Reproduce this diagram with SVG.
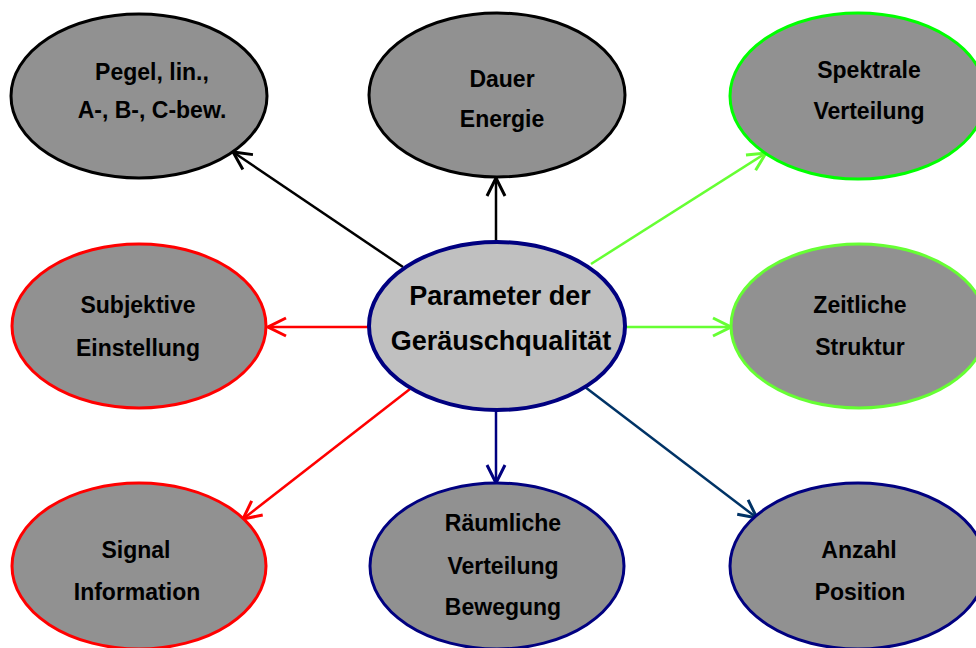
<svg xmlns="http://www.w3.org/2000/svg" width="976" height="648" viewBox="0 0 976 648">
<defs>
<style>
.n{fill:#919191;stroke-width:3}
.t{font-family:"Liberation Sans",Arial,sans-serif;font-weight:bold;font-size:23px;fill:#000;text-anchor:middle}
.c{fill:none;stroke-width:2.5}
</style>
<marker id="ak" markerUnits="userSpaceOnUse" markerWidth="22" markerHeight="22" viewBox="0 0 22 22" refX="20" refY="11" orient="auto"><path d="M2,2 L20,11 L2,20" fill="none" stroke="#000" stroke-width="3"/></marker>
<marker id="ag" markerUnits="userSpaceOnUse" markerWidth="22" markerHeight="22" viewBox="0 0 22 22" refX="20" refY="11" orient="auto"><path d="M2,2 L20,11 L2,20" fill="none" stroke="#66ff33" stroke-width="3"/></marker>
<marker id="ar" markerUnits="userSpaceOnUse" markerWidth="22" markerHeight="22" viewBox="0 0 22 22" refX="20" refY="11" orient="auto"><path d="M2,2 L20,11 L2,20" fill="none" stroke="#ff0000" stroke-width="3"/></marker>
<marker id="an" markerUnits="userSpaceOnUse" markerWidth="22" markerHeight="22" viewBox="0 0 22 22" refX="20" refY="11" orient="auto"><path d="M2,2 L20,11 L2,20" fill="none" stroke="#000080" stroke-width="3"/></marker>
<marker id="ad" markerUnits="userSpaceOnUse" markerWidth="22" markerHeight="22" viewBox="0 0 22 22" refX="20" refY="11" orient="auto"><path d="M2,2 L20,11 L2,20" fill="none" stroke="#003366" stroke-width="3"/></marker>
</defs>
<rect width="976" height="648" fill="#fff"/>
<g id="connectors">
<line class="c" x1="403" y1="267" x2="233" y2="152" stroke="#000" marker-end="url(#ak)"/>
<line class="c" x1="496" y1="241" x2="496" y2="178" stroke="#000" stroke-width="4" marker-end="url(#ak)"/>
<line class="c" x1="591" y1="264" x2="766" y2="153" stroke="#66ff33" marker-end="url(#ag)"/>
<line class="c" x1="625" y1="327" x2="731" y2="327" stroke="#66ff33" stroke-width="3" marker-end="url(#ag)"/>
<line class="c" x1="368" y1="327" x2="268" y2="327" stroke="#ff0000" stroke-width="3" marker-end="url(#ar)"/>
<line class="c" x1="410" y1="389" x2="243" y2="519" stroke="#ff0000" marker-end="url(#ar)"/>
<line class="c" x1="496" y1="410" x2="496" y2="483" stroke="#000080" stroke-width="3" marker-end="url(#an)"/>
<line class="c" x1="585" y1="387" x2="757" y2="518" stroke="#003366" marker-end="url(#ad)"/>
</g>
<g id="n-pegel">
<ellipse class="n" cx="139" cy="96" rx="128" ry="82" stroke="#000"/>
<text class="t" x="152" y="80">Pegel, lin.,</text>
<text class="t" x="152" y="118">A-, B-, C-bew.</text>
</g>
<g id="n-dauer">
<ellipse class="n" cx="497" cy="95" rx="128" ry="82" stroke="#000"/>
<text class="t" x="502" y="87">Dauer</text>
<text class="t" x="502" y="127">Energie</text>
</g>
<g id="n-spektral">
<ellipse class="n" cx="858" cy="96" rx="128" ry="83" stroke="#00ff00"/>
<text class="t" x="869" y="78">Spektrale</text>
<text class="t" x="869" y="119">Verteilung</text>
</g>
<g id="n-subjektiv">
<ellipse class="n" cx="139" cy="326" rx="127" ry="82" stroke="#ff0000"/>
<text class="t" x="138" y="313">Subjektive</text>
<text class="t" x="138" y="356">Einstellung</text>
</g>
<g id="n-center">
<ellipse cx="497" cy="326" rx="128" ry="84" fill="#c0c0c0" stroke="#000080" stroke-width="4"/>
<text class="t" x="500" y="305" style="font-size:27px">Parameter der</text>
<text class="t" x="501" y="350" style="font-size:27px">Geräuschqualität</text>
</g>
<g id="n-zeit">
<ellipse class="n" cx="859" cy="326" rx="128" ry="82" stroke="#66ff33"/>
<text class="t" x="860" y="313">Zeitliche</text>
<text class="t" x="860" y="355">Struktur</text>
</g>
<g id="n-signal">
<ellipse class="n" cx="139" cy="566" rx="127" ry="83" stroke="#ff0000"/>
<text class="t" x="136" y="558">Signal</text>
<text class="t" x="137" y="600">Information</text>
</g>
<g id="n-raum">
<ellipse class="n" cx="497" cy="566" rx="127" ry="83" stroke="#000080"/>
<text class="t" x="503" y="531">Räumliche</text>
<text class="t" x="503" y="574">Verteilung</text>
<text class="t" x="503" y="615">Bewegung</text>
</g>
<g id="n-anzahl">
<ellipse class="n" cx="858" cy="566" rx="128" ry="83" stroke="#000080"/>
<text class="t" x="859" y="558">Anzahl</text>
<text class="t" x="860" y="600">Position</text>
</g>
</svg>
